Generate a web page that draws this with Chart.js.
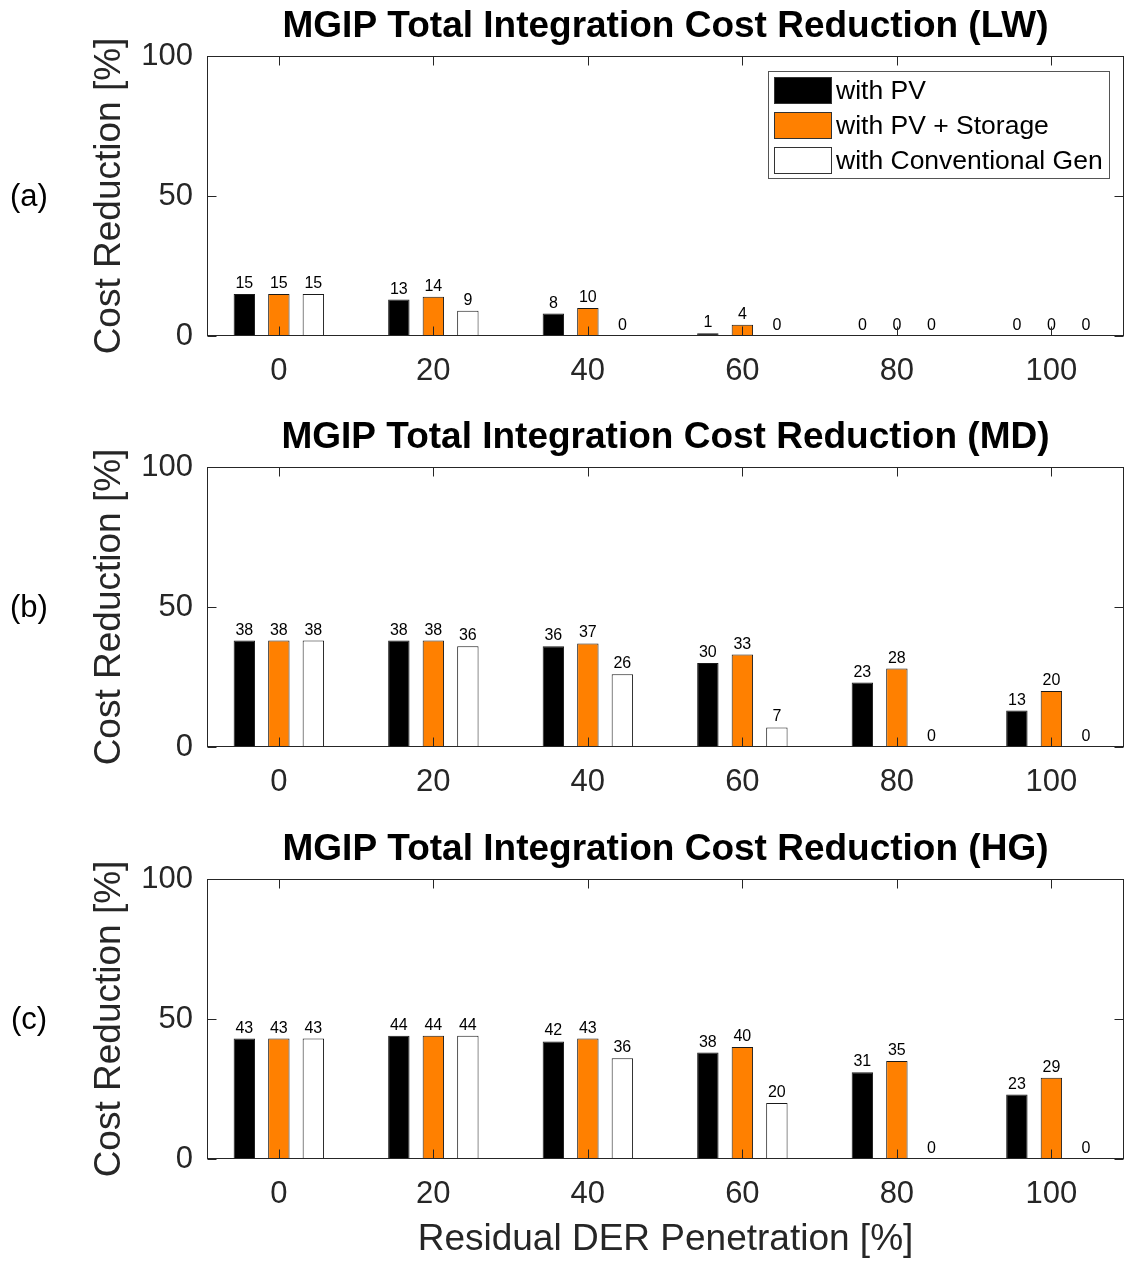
<!DOCTYPE html>
<html><head><meta charset="utf-8">
<script src="https://cdn.jsdelivr.net/npm/chart.js@4.4.1/dist/chart.umd.min.js"></script>
<style>
html,body{margin:0;padding:0;background:#fff;}
body{width:1128px;height:1261px;position:relative;overflow:hidden;font-family:'Liberation Sans',Arial,sans-serif;}
canvas{position:absolute;left:0;}
.plab{position:absolute;left:0;width:58px;text-align:center;font-size:31px;color:#000;line-height:36px;}
</style></head><body>
<canvas id="c0" width="1128" height="411" style="top:0px"></canvas>
<canvas id="c1" width="1128" height="411" style="top:411px"></canvas>
<canvas id="c2" width="1128" height="438" style="top:823px"></canvas>
<div class="plab" style="top:178px">(a)</div>
<div class="plab" style="top:589px">(b)</div>
<div class="plab" style="top:1001px">(c)</div>
<script>
const FAMILY = "'Liberation Sans', Arial, Helvetica, sans-serif";

// ---- data ----
const categories = [0, 20, 40, 60, 80, 100];
const yTicks = [0, 50, 100];
const seriesLabels = ['with PV', 'with PV + Storage', 'with Conventional Gen'];
const panelTitles = [
  'MGIP Total Integration Cost Reduction (LW)',
  'MGIP Total Integration Cost Reduction (MD)',
  'MGIP Total Integration Cost Reduction (HG)'
];
const yTitle = 'Cost Reduction [%]';
const xTitle = 'Residual DER Penetration [%]';

const lwPV   = [15, 13, 8, 1, 0, 0];
const lwPVS  = [15, 14, 10, 4, 0, 0];
const lwConv = [15, 9, 0, 0, 0, 0];

const mdPV   = [38, 38, 36, 30, 23, 13];
const mdPVS  = [38, 38, 37, 33, 28, 20];
const mdConv = [38, 36, 26, 7, 0, 0];

const hgPV   = [43, 44, 42, 38, 31, 23];
const hgPVS  = [43, 44, 43, 40, 35, 29];
const hgConv = [43, 44, 36, 20, 0, 0];

const seriesColors = ['#000000', '#FF8000', '#FFFFFF'];

// ---- plugins ----
const valueLabels = {
  id: 'valueLabels',
  afterDatasetsDraw(chart) {
    const ctx = chart.ctx;
    ctx.save();
    ctx.font = '16px ' + FAMILY;
    ctx.fillStyle = '#000';
    ctx.textAlign = 'center';
    ctx.textBaseline = 'alphabetic';
    chart.data.datasets.forEach((ds, di) => {
      const meta = chart.getDatasetMeta(di);
      meta.data.forEach((bar, i) => {
        ctx.fillText(String(Math.round(ds.data[i])), bar.x, bar.y - 6);
      });
    });
    ctx.restore();
  }
};

const matlabBox = {
  id: 'matlabBox',
  afterDatasetsDraw(chart) {
    const {ctx, chartArea: ca, scales} = chart;
    const x = scales.x, y = scales.y;
    ctx.save();
    ctx.strokeStyle = '#262626';
    ctx.lineWidth = 1;
    const L = Math.round(ca.left) + 0.5, R = Math.round(ca.right) - 0.5;
    const T = Math.round(ca.top) + 0.5, B = Math.round(ca.bottom) - 0.5;
    ctx.strokeRect(L, T, R - L, B - T);
    const tl = 9;
    ctx.beginPath();
    x.ticks.forEach(t => {
      const px = Math.round(x.getPixelForValue(t.value)) + 0.5;
      ctx.moveTo(px, B); ctx.lineTo(px, B - tl);
      ctx.moveTo(px, T); ctx.lineTo(px, T + tl);
    });
    y.ticks.forEach(t => {
      const py = Math.round(y.getPixelForValue(t.value)) + 0.5;
      ctx.moveTo(L, py); ctx.lineTo(L + tl, py);
      ctx.moveTo(R, py); ctx.lineTo(R - tl, py);
    });
    ctx.stroke();
    ctx.restore();
  }
};

const boxLegend = {
  id: 'boxLegend',
  afterDraw(chart, args, opts) {
    if (!opts || !opts.show) return;
    const {ctx, chartArea: ca} = chart;
    const ds = chart.data.datasets;
    ctx.save();
    ctx.font = '26.5px ' + FAMILY;
    const tw = Math.max(...ds.map(d => ctx.measureText(d.label).width));
    const sw = 58, sh = 27, pitch = 35, padL = 5, gap = 4, padR = 7, padT = 5;
    const w = Math.round(padL + sw + gap + tw + padR);
    const h = padT * 2 + pitch * (ds.length - 1) + sh;
    const right = Math.round(ca.right) - 15;
    const left = right - w;
    const top = Math.round(ca.top) + 15;
    ctx.fillStyle = '#fff';
    ctx.fillRect(left, top, w, h);
    ctx.strokeStyle = '#555';
    ctx.lineWidth = 1;
    ctx.strokeRect(left + 0.5, top + 0.5, w, h);
    ds.forEach((d, i) => {
      const sy = top + padT + i * pitch + 1;
      ctx.fillStyle = d.backgroundColor;
      ctx.fillRect(left + padL + 1, sy, sw, sh);
      ctx.strokeStyle = '#333';
      ctx.strokeRect(left + padL + 1.5, sy + 0.5, sw - 1, sh - 1);
      ctx.fillStyle = '#000';
      ctx.textAlign = 'left';
      ctx.textBaseline = 'middle';
      ctx.fillText(d.label, left + padL + sw + gap + 1, sy + sh / 2 + 1);
    });
    ctx.restore();
  }
};

function makeChart(id, title, series, opts) {
  const datasets = series.map((vals, i) => ({
    label: seriesLabels[i],
    data: vals,
    backgroundColor: seriesColors[i],
    borderColor: '#1a1a1a',
    borderWidth: 1,
    categoryPercentage: 0.67,
    barPercentage: 0.62
  }));
  return new Chart(document.getElementById(id), {
    type: 'bar',
    data: { labels: categories, datasets },
    plugins: [valueLabels, matlabBox, boxLegend],
    options: {
      responsive: false,
      devicePixelRatio: 1,
      animation: false,
      layout: { padding: { left: 0, right: 4, top: 0, bottom: 0 } },
      plugins: {
        legend: { display: false },
        tooltip: { enabled: false },
        title: {
          display: true, text: title, color: '#000', fullSize: false,
          font: { size: 37, weight: 'bold', family: FAMILY },
          padding: { top: 5, bottom: 6.6 }
        },
        boxLegend: { show: !!opts.legend }
      },
      scales: {
        x: {
          type: 'linear', min: -9.3, max: 109.4, offset: false, bounds: 'data',
          grid: { display: false, drawTicks: false },
          border: { display: false },
          afterBuildTicks: s => { s.ticks = categories.map(v => ({ value: v })); },
          ticks: { font: { size: 31, family: FAMILY }, color: '#262626', padding: 17, maxRotation: 0, autoSkip: false },
          afterFit: s => { s.height = opts.xh; },
          title: {
            display: !!opts.xTitle, text: xTitle, color: '#262626',
            font: { size: 37, family: FAMILY, lineHeight: 1.15 }, padding: 0
          }
        },
        y: {
          min: 0, max: 100,
          grid: { display: false, drawTicks: false },
          border: { display: false },
          afterBuildTicks: s => { s.ticks = yTicks.map(v => ({ value: v })); },
          ticks: { font: { size: 31, family: FAMILY }, color: '#262626', padding: 14 },
          afterFit: s => { s.width = 207; },
          title: {
            display: true, text: yTitle, color: '#262626',
            font: { size: 37, family: FAMILY }, padding: { top: 88, bottom: 0 }
          }
        }
      }
    }
  });
}

makeChart('c0', panelTitles[0], [lwPV, lwPVS, lwConv], { legend: true, xh: 75 });
makeChart('c1', panelTitles[1], [mdPV, mdPVS, mdConv], { xh: 75 });
makeChart('c2', panelTitles[2], [hgPV, hgPVS, hgConv], { xh: 102, xTitle: true });
</script>
</body></html>
